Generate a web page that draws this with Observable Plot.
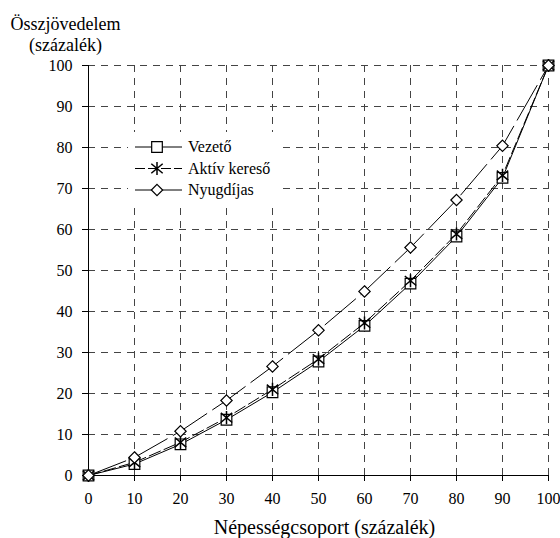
<!DOCTYPE html>
<html>
<head>
<meta charset="utf-8">
<script src="https://cdn.jsdelivr.net/npm/d3@7"></script>
<script src="https://cdn.jsdelivr.net/npm/@observablehq/plot@0.6"></script>
<style>
  html, body { margin: 0; padding: 0; background: white; }
  #chart { width: 560px; height: 538px; }
  #chart svg, #chart svg text { font-family: "Liberation Serif", "DejaVu Serif", serif !important; }
</style>
</head>
<body>
<div id="chart"></div>
<script>
// ---- data ----
const groups = [0, 10, 20, 30, 40, 50, 60, 70, 80, 90, 100];
const vezeto = [0, 2.8, 7.6, 13.6, 20.3, 27.8, 36.5, 46.8, 58.3, 72.6, 100];
const aktivKereso = [0, 3.2, 8.1, 14.1, 21.0, 28.4, 37.2, 47.5, 58.9, 73.2, 100];
const nyugdijas = [0, 4.4, 10.8, 18.3, 26.6, 35.4, 44.9, 55.6, 67.2, 80.4, 100];
const seriesNames = ["Vezető", "Aktív kereső", "Nyugdíjas"];
const xTicks = [0, 10, 20, 30, 40, 50, 60, 70, 80, 90, 100];
const yTicks = [0, 10, 20, 30, 40, 50, 60, 70, 80, 90, 100];
const xTitle = "Népességcsoport (százalék)";
const yTitle = "Összjövedelem\n(százalék)";

const seriesValues = [vezeto, aktivKereso, nyugdijas];
const rows = seriesNames.map((name, i) => groups.map((g, j) => ({series: name, x: g, y: seriesValues[i][j]})));

// custom asterisk (vertical bar + X)
const star = {
  draw(ctx, size) {
    const r = Math.sqrt(size / Math.PI);
    const h = r * 1.1, w = r * 0.95, v = r * 0.8;
    ctx.moveTo(0, -h); ctx.lineTo(0, h);
    ctx.moveTo(-w, -v); ctx.lineTo(w, v);
    ctx.moveTo(-w, v); ctx.lineTo(w, -v);
  }
};

const styles = [
  {dash: null, symbol: "square", d3sym: d3.symbolSquare, r: 6, fill: "white", sw: 1.2},
  {dash: "12,4", symbol: star, d3sym: star, r: 6, fill: "none", sw: 1.5},
  {dash: "40,7", symbol: "diamond2", d3sym: d3.symbolDiamond2, r: 5.1, fill: "white", sw: 1.2}
];

const font = '"Liberation Serif", "DejaVu Serif", serif';

const chart = Plot.plot({
  width: 560,
  height: 538,
  marginLeft: 88,
  marginRight: 12,
  marginTop: 65,
  marginBottom: 63,
  style: {fontFamily: font, background: "white", color: "black", overflow: "visible"},
  x: {domain: [0, 100], label: null},
  y: {domain: [0, 100], label: null},
  marks: [
    Plot.gridX(xTicks.filter(d => d > 0), {stroke: "#444", strokeOpacity: 1, strokeDasharray: "7,6"}),
    Plot.gridY(yTicks.filter(d => d > 0), {stroke: "#444", strokeOpacity: 1, strokeDasharray: "7,6"}),
    Plot.axisX(xTicks, {tickSize: 6, tickPadding: 11, fontSize: 16, label: null}),
    Plot.axisY(yTicks, {tickSize: 6, tickPadding: 10, fontSize: 16, label: null}),
    Plot.ruleY([0], {stroke: "black"}),
    Plot.ruleX([0], {stroke: "black"}),
    ...rows.map((r, i) => Plot.line(r, {x: "x", y: "y", stroke: "black", strokeWidth: 1, strokeDasharray: styles[i].dash})),
    ...rows.map((r, i) => Plot.dot(r, {x: "x", y: "y", symbol: () => styles[i].symbol, r: styles[i].r, stroke: "black", fill: styles[i].fill, strokeWidth: styles[i].sw})),
    Plot.text([xTitle], {frameAnchor: "bottom", dx: 6, dy: 52, fontSize: 20, lineAnchor: "middle", fill: "black"}),
    Plot.text([yTitle], {frameAnchor: "top-left", textAnchor: "middle", dx: -23, dy: -15, fontSize: 18, lineHeight: 1.15, lineAnchor: "bottom", fill: "black"})
  ]
});

// legend box drawn on top of the plot area
const svg = d3.select(chart);
const lg = svg.append("g").attr("transform", "translate(128,132)").attr("text-anchor", "start");
lg.append("rect").attr("x", 0).attr("y", 0).attr("width", 149).attr("height", 75)
  .attr("fill", "white").attr("stroke", "none");
seriesNames.forEach((name, i) => {
  const y = 15 + i * 21.5;
  const s = styles[i];
  lg.append("line").attr("x1", 7).attr("x2", 54).attr("y1", y).attr("y2", y)
    .attr("stroke", "black").attr("stroke-width", 1)
    .attr("stroke-dasharray", i === 1 ? "10,3" : null);
  lg.append("path").attr("transform", `translate(29,${y})`)
    .attr("d", d3.symbol(s.d3sym, Math.PI * s.r * s.r)())
    .attr("fill", s.fill).attr("stroke", "black").attr("stroke-width", s.sw);
  lg.append("text").attr("x", 60).attr("y", y).attr("dy", "0.32em")
    .attr("text-anchor", "start")
    .attr("font-size", 16).attr("fill", "black").text(name);
});

document.getElementById("chart").appendChild(chart);
</script>
</body>
</html>
